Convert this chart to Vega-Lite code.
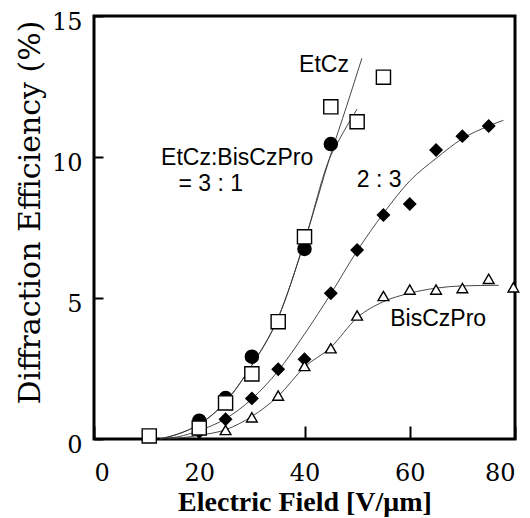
{
  "$schema": "https://vega.github.io/schema/vega-lite/v6.json",
  "autosize": "none",
  "width": 421,
  "height": 423,
  "padding": {"left": 94, "top": 16, "right": 15, "bottom": 79},
  "background": "white",
  "config": {
    "view": {"stroke": "black", "strokeWidth": 3},
    "axis": {"grid": false, "domain": false, "labelColor": "black", "titleColor": "black", "tickColor": "black"}
  },
  "datasets": {
    "fit": [
      {"curve": "EtCz", "x": 12.5, "y": 0},
      {"curve": "EtCz", "x": 16, "y": 0.18},
      {"curve": "EtCz", "x": 20, "y": 0.52},
      {"curve": "EtCz", "x": 25, "y": 1.32},
      {"curve": "EtCz", "x": 30, "y": 2.62},
      {"curve": "EtCz", "x": 35, "y": 4.3},
      {"curve": "EtCz", "x": 40, "y": 7.0},
      {"curve": "EtCz", "x": 45, "y": 10.1},
      {"curve": "EtCz", "x": 48, "y": 11.8},
      {"curve": "EtCz", "x": 50.9, "y": 13.5},
      {"curve": "r31", "x": 12.5, "y": 0},
      {"curve": "r31", "x": 16, "y": 0.18},
      {"curve": "r31", "x": 20, "y": 0.52},
      {"curve": "r31", "x": 25, "y": 1.32},
      {"curve": "r31", "x": 30, "y": 2.62},
      {"curve": "r31", "x": 35, "y": 4.3},
      {"curve": "r31", "x": 40, "y": 7.0},
      {"curve": "r31", "x": 45, "y": 10.05},
      {"curve": "r31", "x": 46.2, "y": 10.48},
      {"curve": "r31", "x": 50, "y": 11.7},
      {"curve": "r23", "x": 12.5, "y": 0},
      {"curve": "r23", "x": 16, "y": 0.08},
      {"curve": "r23", "x": 20, "y": 0.3},
      {"curve": "r23", "x": 25, "y": 0.72},
      {"curve": "r23", "x": 30, "y": 1.42},
      {"curve": "r23", "x": 35, "y": 2.42},
      {"curve": "r23", "x": 40, "y": 3.72},
      {"curve": "r23", "x": 45, "y": 5.15},
      {"curve": "r23", "x": 50, "y": 6.67},
      {"curve": "r23", "x": 55, "y": 8.0},
      {"curve": "r23", "x": 60, "y": 9.15},
      {"curve": "r23", "x": 65, "y": 9.95},
      {"curve": "r23", "x": 70, "y": 10.65},
      {"curve": "r23", "x": 75, "y": 11.1},
      {"curve": "r23", "x": 77.8, "y": 11.3},
      {"curve": "Bis", "x": 14, "y": 0},
      {"curve": "Bis", "x": 17, "y": 0.05},
      {"curve": "Bis", "x": 20, "y": 0.13},
      {"curve": "Bis", "x": 25, "y": 0.33},
      {"curve": "Bis", "x": 30, "y": 0.8},
      {"curve": "Bis", "x": 35, "y": 1.52},
      {"curve": "Bis", "x": 40, "y": 2.55},
      {"curve": "Bis", "x": 45, "y": 3.25},
      {"curve": "Bis", "x": 50, "y": 4.3},
      {"curve": "Bis", "x": 55, "y": 4.87},
      {"curve": "Bis", "x": 60, "y": 5.17},
      {"curve": "Bis", "x": 65, "y": 5.35},
      {"curve": "Bis", "x": 70, "y": 5.43},
      {"curve": "Bis", "x": 76.9, "y": 5.45}
    ],
    "pts": [
      {"series": "2:3", "x": 20, "y": 0.25},
      {"series": "2:3", "x": 25, "y": 0.7},
      {"series": "2:3", "x": 30, "y": 1.44},
      {"series": "2:3", "x": 35, "y": 2.47},
      {"series": "2:3", "x": 40, "y": 2.83},
      {"series": "2:3", "x": 45, "y": 5.17},
      {"series": "2:3", "x": 50, "y": 6.7},
      {"series": "2:3", "x": 55, "y": 7.94},
      {"series": "2:3", "x": 60, "y": 8.33},
      {"series": "2:3", "x": 65, "y": 10.25},
      {"series": "2:3", "x": 70, "y": 10.74},
      {"series": "2:3", "x": 75, "y": 11.1},
      {"series": "3:1", "x": 20, "y": 0.65},
      {"series": "3:1", "x": 25, "y": 1.45},
      {"series": "3:1", "x": 30, "y": 2.92},
      {"series": "3:1", "x": 40, "y": 6.74},
      {"series": "3:1", "x": 45, "y": 10.46},
      {"series": "BisCzPro", "x": 25, "y": 0.32},
      {"series": "BisCzPro", "x": 30, "y": 0.77},
      {"series": "BisCzPro", "x": 35, "y": 1.54},
      {"series": "BisCzPro", "x": 40, "y": 2.59},
      {"series": "BisCzPro", "x": 45, "y": 3.22},
      {"series": "BisCzPro", "x": 50, "y": 4.38},
      {"series": "BisCzPro", "x": 55, "y": 5.07},
      {"series": "BisCzPro", "x": 60, "y": 5.3},
      {"series": "BisCzPro", "x": 65, "y": 5.3},
      {"series": "BisCzPro", "x": 70, "y": 5.35},
      {"series": "BisCzPro", "x": 75, "y": 5.68},
      {"series": "BisCzPro", "x": 79.7, "y": 5.38},
      {"series": "EtCz", "x": 10.5, "y": 0.11},
      {"series": "EtCz", "x": 20, "y": 0.39},
      {"series": "EtCz", "x": 25, "y": 1.28},
      {"series": "EtCz", "x": 30, "y": 2.31},
      {"series": "EtCz", "x": 35, "y": 4.16},
      {"series": "EtCz", "x": 40, "y": 7.17},
      {"series": "EtCz", "x": 45, "y": 11.78},
      {"series": "EtCz", "x": 50, "y": 11.25},
      {"series": "EtCz", "x": 55, "y": 12.83}
    ],
    "lab": [
      {"text": "EtCz", "x": 43.7, "y": 13.26},
      {"text": "EtCz:BisCzPro", "x": 27.2, "y": 9.96},
      {"text": "= 3 : 1", "x": 22.2, "y": 9.05},
      {"text": "2 : 3", "x": 54.2, "y": 9.18},
      {"text": "BisCzPro", "x": 65.4, "y": 4.24}
    ]
  },
  "layer": [
    {
      "data": {"name": "fit"},
      "mark": {"type": "line", "interpolate": "monotone", "stroke": "#333", "strokeWidth": 0.9},
      "encoding": {
        "x": {"field": "x", "type": "quantitative", "scale": {"domain": [0, 80], "nice": false},
          "axis": {"values": [0, 20, 40, 60, 80], "tickSize": -13, "tickWidth": 2, "labelPadding": 35,
            "labelFont": "DejaVu Serif", "labelFontSize": 24, "labelFontWeight": "normal",
            "title": "Electric Field [V/μm]", "titleFont": "Liberation Serif", "titleFontSize": 28, "titleFontWeight": "bold", "titlePadding": 3}},
        "y": {"field": "y", "type": "quantitative", "scale": {"domain": [0, 15], "nice": false},
          "axis": {"values": [0, 5, 10, 15], "tickSize": -9, "tickWidth": 2, "labelPadding": 21, "labelOffset": 6,
            "labelFont": "DejaVu Serif", "labelFontSize": 24, "labelFontWeight": "normal",
            "title": "Diffraction Efficiency (%)", "titleFont": "DejaVu Serif", "titleFontSize": 30, "titleFontWeight": "normal", "titlePadding": 6, "titleY": 196}},
        "detail": {"field": "curve"}
      }
    },
    {
      "data": {"name": "pts"},
      "mark": {"type": "point", "filled": true, "stroke": "black", "strokeWidth": 1.4, "opacity": 1},
      "encoding": {
        "x": {"field": "x", "type": "quantitative"},
        "y": {"field": "y", "type": "quantitative"},
        "shape": {"field": "series", "type": "nominal", "legend": null,
          "scale": {"domain": ["EtCz", "3:1", "2:3", "BisCzPro"], "range": ["square", "circle", "diamond", "triangle-up"]}},
        "fill": {"field": "series", "type": "nominal", "legend": null,
          "scale": {"domain": ["EtCz", "3:1", "2:3", "BisCzPro"], "range": ["white", "black", "black", "white"]}},
        "size": {"field": "series", "type": "nominal", "legend": null,
          "scale": {"domain": ["EtCz", "3:1", "2:3", "BisCzPro"], "range": [200, 115, 210, 210]}}
      }
    },
    {
      "data": {"name": "lab"},
      "mark": {"type": "text", "font": "Liberation Sans", "fontSize": 23, "color": "black", "align": "center", "baseline": "middle"},
      "encoding": {
        "x": {"field": "x", "type": "quantitative"},
        "y": {"field": "y", "type": "quantitative"},
        "text": {"field": "text"}
      }
    }
  ]
}
